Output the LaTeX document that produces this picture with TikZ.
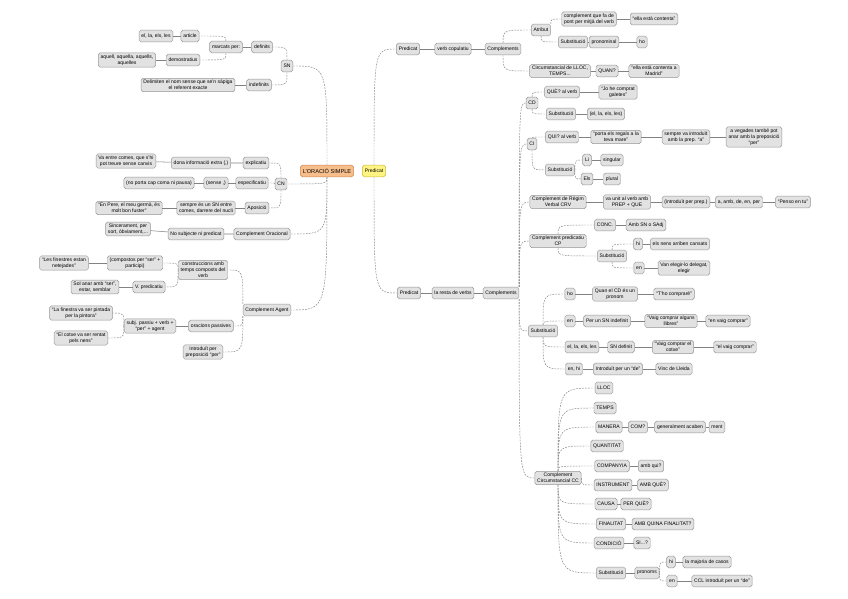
\documentclass[tikz,border=0pt]{standalone}
\usepackage{fontspec}
\setmainfont{Liberation Sans}
\usetikzlibrary{positioning}
\definecolor{boxfill}{RGB}{226,226,226}
\definecolor{boxline}{RGB}{150,150,150}
\definecolor{linkgray}{RGB}{130,130,130}
\definecolor{rootfill}{RGB}{247,190,140}
\definecolor{rootline}{RGB}{205,135,80}
\definecolor{predfill}{RGB}{255,244,130}
\definecolor{predline}{RGB}{200,185,70}

\begin{document}
\begin{tikzpicture}[x=0.03cm,y=-0.03cm,
  every node/.style={draw=boxline,fill=boxfill,rounded corners=1.6pt,align=center,
    font=\fontsize{4.3}{5.2}\selectfont,inner xsep=2pt,inner ysep=1.5pt,minimum height=3.5mm,line width=0.4pt},
  link/.style={draw=linkgray,line width=0.45pt},
  branch/.style={draw=linkgray,line width=0.4pt,dash pattern=on 1.5pt off 1pt},
  elbow/.style={to path={.. controls (\tikztostart |- \tikztotarget) .. (\tikztotarget)}}]
\path[fill=white] (0,0) rectangle (848,599);
\useasboundingbox (0,0) rectangle (848,599);

% centre
\node[fill=rootfill,draw=rootline,font=\fontsize{4.8}{5.6}\selectfont] (root) at (327,171) {L'ORACIÓ SIMPLE};
\node[fill=predfill,draw=predline] (pred) at (374,171) {Predicat};

% SN
\node (sn) at (287,66) {SN};
\node (def) at (262,47) {definits};
\node (marc) at (226,47) {marcats per:};
\node (art) at (190,36) {article};
\node (artx) at (156,36) {el, la, els, les};
\node (dem) at (183,60) {demostratius};
\node (demx) at (127,60) {aquell, aquella, aquells,\\aquelles};
\node (indef) at (259,85) {indefinits};
\node (indefx) at (188,85) {Delimiten el nom sense que se'n sàpiga\\el referent exacte};

% CN
\node (cn) at (281,184) {CN};
\node (expl) at (256,163) {explicatiu};
\node (expla) at (201,163) {dona informació extra (,)};
\node (explx) at (126,161) {Va entre comes, que s'hi\\pot treure sense canvis};
\node (espec) at (252,183) {especificatiu};
\node (espeb) at (216,183) {(sense ,)};
\node (espex) at (159,183) {(no porta cap coma ni pausa)};
\node (apos) at (257,208) {Aposició};
\node (aposa) at (206,208) {sempre és un SN entre\\comes, darrere del nucli};
\node (aposx) at (129,208) {“En Pere, el meu germà, és\\molt bon fuster”};

\node (corac) at (262,234) {Complement Oracional};
\node (coraca) at (196,234) {No subjecte ni predicat};
\node (coracx) at (128,229) {Sincerament, per\\sort, òbviament,...};

% complement agent
\node (cag) at (267,310) {Complement Agent};
\node (constr) at (203,270) {construccions amb\\temps composts del\\verb};
\node (pasa) at (135,263) {(compostos per “ser” +\\participi)};
\node (pasax) at (64,263) {“Les finestres estan\\netejades”};
\node (pasb) at (149,287) {V. predicatiu};
\node (pasbx) at (95,287) {Sol anar amb “ser”,\\estar, semblar};
\node (opas) at (211,326) {oracions passives};
\node (opasa) at (150,326) {subj. passiu + verb +\\“per” + agent};
\node (opasx) at (81,313) {“La finestra va ser pintada\\per la pintora”};
\node (opasy) at (81,338) {“El cotxe va ser rentat\\pels nens”};
\node (intro) at (203,352) {Introduït per\\preposició “per”};

% predicat, dalt
\node (ptop) at (408,49) {Predicat};
\node (copul) at (453,49) {verb copulatiu};
\node (ctop) at (503,49) {Complements};
\node (atr) at (541,30) {Atribut};
\node (atra) at (589,19) {complement que fa de\\pont per mitjà del verb};
\node (atrx) at (654,19) {“ella està contenta”};
\node (atrs) at (573,42) {Substitució};
\node (atrp) at (604,42) {pronominal};
\node (atrh) at (642,42) {ho};
\node (circ) at (560,71) {Circumstancial de LLOC,\\TEMPS...};
\node (quan) at (607,71) {QUAN?};
\node (circx) at (654,71) {“ella està contenta a\\Madrid”};

% predicat, baix
\node (pbot) at (409,293) {Predicat};
\node (resta) at (453,293) {la resta de verbs};
\node (cbot) at (501,293) {Complements};

\node (cd) at (532,103) {CD};
\node (cdq) at (562,92) {QUÈ? al verb};
\node (cdx) at (618,92) {“Jo he comprat\\galetes”};
\node (cds) at (561,114) {Substitució};
\node (cdp) at (606,114) {(el, la, els, les)};

\node (ci) at (532,144) {CI};
\node (ciq) at (562,137) {QUI? al verb};
\node (cia) at (616,137) {“porta els regals a la\\teva mare”};
\node (cib) at (686,137) {sempre va introduït\\amb la prep. “a”};
\node (cic) at (754,137) {a vegades també pot\\anar amb la preposició\\“per”};
\node (cis) at (560,170) {Substitució};
\node (cili) at (587,160) {Li};
\node (cisg) at (612,160) {singular};
\node (cils) at (587,179) {Els};
\node (cipl) at (612,179) {plural};

\node (crv) at (558,202) {Complement de Règim\\Verbal CRV};
\node (crva) at (627,202) {va unit al verb amb\\PREP + QUE};
\node (crvb) at (686,202) {(introduït per prep.)};
\node (crvc) at (739,202) {a, amb, de, en, per};
\node (crvd) at (793,202) {“Penso en tu”};

\node (cp) at (558,241) {Complement predicatiu\\CP};
\node (cpc) at (605,225) {CONC.};
\node (cpa) at (646,225) {Amb SN o SAdj};
\node (cps) at (612,256) {Substitució};
\node (cphi) at (638,244) {hi};
\node (cphix) at (680,244) {els nens arriben cansats};
\node (cpen) at (639,268) {en};
\node (cpenx) at (684,268) {Van elegir-lo delegat,\\elegir};

\node (sub) at (543,331) {Substitució};
\node (subho) at (570,294) {ho};
\node (subhoa) at (615,294) {Quan el CD és un\\pronom};
\node (subhox) at (674,294) {“T'ho compraré”};
\node (suben) at (570,321) {en};
\node (subena) at (607,321) {Per un SN indefinit};
\node (subenb) at (671,321) {“Vaig comprar alguns\\llibres”};
\node (subenx) at (728,321) {“en vaig comprar”};
\node (subel) at (582,347) {el, la, els, les};
\node (subela) at (621,347) {SN definit};
\node (subelb) at (673,347) {“Vaig comprar el\\cotxe”};
\node (subelx) at (735,347) {“el vaig comprar”};
\node (subde) at (574,369) {en, hi};
\node (subdea) at (618,369) {Introduït per un “de”};
\node (subdex) at (674,369) {Vinc de Lleida};

\node (cc) at (558,478) {Complement\\Circumstancial CC};
\node (lloc) at (604,388) {LLOC};
\node (temps) at (605,408) {TEMPS};
\node (man) at (609,427) {MANERA};
\node (mana) at (638,427) {COM?};
\node (manb) at (680,427) {generalment acaben};
\node (manc) at (717,427) {ment};
\node (quant) at (607,446) {QUANTITAT};
\node (comp) at (612,466) {COMPANYIA};
\node (compa) at (651,466) {amb qui?};
\node (instr) at (613,485) {INSTRUMENT};
\node (instra) at (653,485) {AMB QUÈ?};
\node (causa) at (606,504) {CAUSA};
\node (causaa) at (636,504) {PER QUÈ?};
\node (fin) at (611,524) {FINALITAT};
\node (fina) at (663,524) {AMB QUINA FINALITAT?};
\node (cond) at (609,543) {CONDICIÓ};
\node (conda) at (642,543) {SI...?};
\node (ccs) at (611,573) {Substitució};
\node (ccp) at (647,573) {pronoms};
\node (cchi) at (671,562) {hi};
\node (cchix) at (707,562) {la majoria de casos};
\node (ccen) at (672,581) {en};
\node (ccenx) at (722,581) {CCL introduït per un “de”};

% branques esquerra
\draw[branch] (root.north) to[elbow] (sn.east);
\draw[branch] (root.south) to[elbow] (cn.east);
\draw[branch] (root.south) to[elbow] (corac.east);
\draw[branch] (root.south) to[elbow] (cag.east);
\draw[branch] (sn.north) to[elbow] (def.east);
\draw[branch] (sn.south) to[elbow] (indef.east);
\draw[link] (def) -- (marc);
\draw[branch] (marc.north) to[elbow] (art.east);
\draw[branch] (marc.south) to[elbow] (dem.east);
\draw[link] (art) -- (artx);
\draw[link] (dem) -- (demx);
\draw[link] (indef) -- (indefx);
\draw[branch] (cn.north) to[elbow] (expl.east);
\draw[branch] (cn.west) to[elbow] (espec.east);
\draw[branch] (cn.south) to[elbow] (apos.east);
\draw[link] (expl) -- (expla) -- (explx);
\draw[link] (espec) -- (espeb) -- (espex);
\draw[link] (apos) -- (aposa) -- (aposx);
\draw[link] (corac) -- (coraca) -- (coracx);
\draw[branch] (cag.north west) to[elbow] (constr.east);
\draw[branch] (cag.south west) to[elbow] (opas.east);
\draw[branch] (cag.south west) to[elbow] (intro.east);
\draw[branch] (constr.west) to[elbow] (pasa.east);
\draw[branch] (constr.west) to[elbow] (pasb.east);
\draw[link] (pasa) -- (pasax);
\draw[link] (pasb) -- (pasbx);
\draw[link] (opas) -- (opasa);
\draw[branch] (opasa.west) to[elbow] (opasx.east);
\draw[branch] (opasa.west) to[elbow] (opasy.east);

% branques dreta
\draw[branch] (pred.north) to[elbow] (ptop.west);
\draw[branch] (pred.south) to[elbow] (pbot.west);
\draw[link] (ptop) -- (copul) -- (ctop);
\draw[branch] (ctop.north) to[elbow] (atr.west);
\draw[branch] (ctop.south) to[elbow] (circ.west);
\draw[branch] (atr.north east) to[elbow] (atra.west);
\draw[branch] (atr.south) to[elbow] (atrs.west);
\draw[link] (atra) -- (atrx);
\draw[link] (atrs) -- (atrp) -- (atrh);
\draw[link] (circ) -- (quan) -- (circx);

\draw[link] (pbot) -- (resta) -- (cbot);
\draw[branch] (cbot.north east) to[elbow] (cd.west);
\draw[branch] (cbot.north east) to[elbow] (ci.west);
\draw[branch] (cbot.north east) to[elbow] (crv.west);
\draw[branch] (cbot.north east) to[elbow] (cp.west);
\draw[branch] (cbot.south east) to[elbow] (sub.west);
\draw[branch] (cbot.south east) to[elbow] (cc.west);

\draw[branch] (cd.north) to[elbow] (cdq.west);
\draw[branch] (cd.south) to[elbow] (cds.west);
\draw[link] (cdq) -- (cdx);
\draw[link] (cds) -- (cdp);
\draw[branch] (ci.north) to[elbow] (ciq.west);
\draw[branch] (ci.south) to[elbow] (cis.west);
\draw[link] (ciq) -- (cia) -- (cib) -- (cic);
\draw[branch] (cis.east) to[elbow] (cili.west);
\draw[branch] (cis.east) to[elbow] (cils.west);
\draw[link] (cili) -- (cisg);
\draw[link] (cils) -- (cipl);
\draw[link] (crv) -- (crva) -- (crvb) -- (crvc) -- (crvd);
\draw[branch] (cp.north) to[elbow] (cpc.west);
\draw[branch] (cp.south) to[elbow] (cps.west);
\draw[link] (cpc) -- (cpa);
\draw[branch] (cps.north) to[elbow] (cphi.west);
\draw[branch] (cps.south) to[elbow] (cpen.west);
\draw[link] (cphi) -- (cphix);
\draw[link] (cpen) -- (cpenx);

\draw[branch] (sub.north) to[elbow] (subho.west);
\draw[branch] (sub.north) to[elbow] (suben.west);
\draw[branch] (sub.south) to[elbow] (subel.west);
\draw[branch] (sub.south) to[elbow] (subde.west);
\draw[link] (subho) -- (subhoa) -- (subhox);
\draw[link] (suben) -- (subena) -- (subenb) -- (subenx);
\draw[link] (subel) -- (subela) -- (subelb) -- (subelx);
\draw[link] (subde) -- (subdea) -- (subdex);

\draw[branch] (cc.north) to[elbow] (lloc.west);
\draw[branch] (cc.north) to[elbow] (temps.west);
\draw[branch] (cc.north) to[elbow] (man.west);
\draw[branch] (cc.north) to[elbow] (quant.west);
\draw[branch] (cc.north) to[elbow] (comp.west);
\draw[branch] (cc.east) to[elbow] (instr.west);
\draw[branch] (cc.south) to[elbow] (causa.west);
\draw[branch] (cc.south) to[elbow] (fin.west);
\draw[branch] (cc.south) to[elbow] (cond.west);
\draw[branch] (cc.south) to[elbow] (ccs.west);
\draw[link] (man) -- (mana) -- (manb) -- (manc);
\draw[link] (comp) -- (compa);
\draw[link] (instr) -- (instra);
\draw[link] (causa) -- (causaa);
\draw[link] (fin) -- (fina);
\draw[link] (cond) -- (conda);
\draw[link] (ccs) -- (ccp);
\draw[branch] (ccp.east) to[elbow] (cchi.west);
\draw[branch] (ccp.east) to[elbow] (ccen.west);
\draw[link] (cchi) -- (cchix);
\draw[link] (ccen) -- (ccenx);
\end{tikzpicture}
\end{document}
